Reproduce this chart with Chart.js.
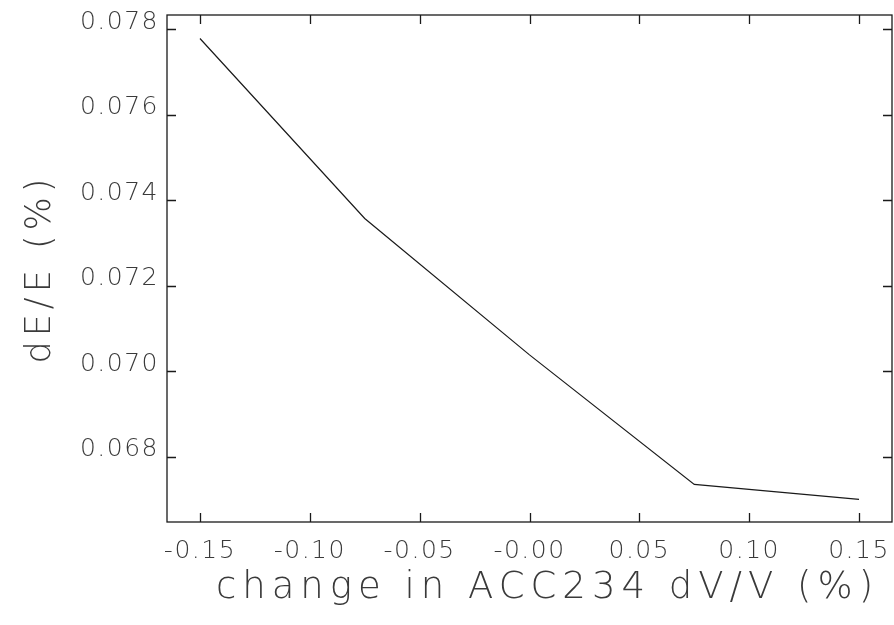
<!DOCTYPE html>
<html>
<head>
<meta charset="utf-8">
<title>dE/E vs ACC234 dV/V</title>
<script src="https://cdn.jsdelivr.net/npm/chart.js@4/dist/chart.umd.min.js"></script>
<style>
    html, body { margin: 0; padding: 0; background: #fff; }
    #wrap { width: 894px; height: 625px; }
</style>
</head>
<body>
<div id="wrap"><canvas id="chartEnergia" width="894" height="625"></canvas></div>
<script>
// voltage change on ACC234 (%) and resulting energy spread dE/E (%)
const cambioVoltaje = [-0.15, -0.075, 0.0, 0.075, 0.15];
const dispersionE = [0.07778, 0.07357, 0.07038, 0.06735, 0.06700];

const xTickValues = [-0.15, -0.10, -0.05, 0.0, 0.05, 0.10, 0.15];
const xTickLabels = ['-0.15', '-0.10', '-0.05', '-0.00', '0.05', '0.10', '0.15'];
const yTickValues = [0.068, 0.070, 0.072, 0.074, 0.076, 0.078];
const yTickLabels = ['0.068', '0.070', '0.072', '0.074', '0.076', '0.078'];

const fuente = "'DejaVu Sans', sans-serif";
const colorTexto = '#3a3a3a';
const colorLinea = '#1a1a1a';

// box around the plot with inward ticks on all four sides
const marcoTicks = {
    id: 'marcoTicks',
    afterDraw(chart) {
        const { ctx, chartArea: a, scales: { x, y } } = chart;
        const largo = 9;
        ctx.save();
        ctx.strokeStyle = colorLinea;
        ctx.lineWidth = 1.3;
        ctx.strokeRect(a.left, a.top, a.right - a.left, a.bottom - a.top);
        ctx.beginPath();
        x.ticks.forEach(t => {
            const px = Math.round(x.getPixelForValue(t.value)) + 0.5;
            ctx.moveTo(px, a.bottom); ctx.lineTo(px, a.bottom - largo);
            ctx.moveTo(px, a.top); ctx.lineTo(px, a.top + largo);
        });
        y.ticks.forEach(t => {
            const py = Math.round(y.getPixelForValue(t.value)) + 0.5;
            ctx.moveTo(a.left, py); ctx.lineTo(a.left + largo, py);
            ctx.moveTo(a.right, py); ctx.lineTo(a.right - largo, py);
        });
        ctx.stroke();
        ctx.restore();
    }
};

// wide spacing for the stroke-style lettering
const espaciado = {
    id: 'espaciado',
    beforeDraw(chart) {
        chart.ctx.letterSpacing = '1.5px';
        const { x, y } = chart.scales;
        [[x, '6px', 18], [y, '5px', 0]].forEach(([s, esp, dx]) => {
            if (s._tituloParcheado) return;
            const original = s.drawTitle.bind(s);
            s.drawTitle = function () {
                const c = this.ctx;
                c.save();
                c.letterSpacing = esp;
                c.translate(dx, 0);
                original();
                c.restore();
            };
            s._tituloParcheado = true;
        });
    }
};

const chartEnergia = new Chart(document.getElementById('chartEnergia'), {
    type: 'line',
    data: {
        datasets: [{
            data: cambioVoltaje.map((v, i) => ({ x: v, y: dispersionE[i] })),
            borderColor: colorLinea,
            borderWidth: 1.2,
            pointRadius: 0,
            tension: 0,
            fill: false
        }]
    },
    options: {
        responsive: false,
        animation: false,
        layout: { padding: { top: 15, right: 2, left: 0, bottom: 0 } },
        plugins: {
            legend: { display: false },
            tooltip: { enabled: false }
        },
        scales: {
            x: {
                type: 'linear',
                min: -0.165,
                max: 0.165,
                afterBuildTicks: s => { s.ticks = xTickValues.map(v => ({ value: v })); },
                afterFit: s => { s.height = 103; s.paddingLeft = 0; s.paddingRight = 0; },
                grid: { display: false, drawTicks: false },
                border: { display: false },
                ticks: {
                    callback: (v, i) => xTickLabels[i],
                    color: colorTexto,
                    font: { family: fuente, size: 25, weight: '200' },
                    padding: 14,
                    maxRotation: 0,
                    autoSkip: false
                },
                title: {
                    display: true,
                    text: 'change in ACC234 dV/V (%)',
                    color: colorTexto,
                    font: { family: fuente, size: 37, weight: '200' },
                    padding: { top: 0, bottom: 14 }
                }
            },
            y: {
                type: 'linear',
                min: 0.06647,
                max: 0.07833,
                afterBuildTicks: s => { s.ticks = yTickValues.map(v => ({ value: v })); },
                afterFit: s => { s.width = 167; s.paddingTop = 0; s.paddingBottom = 0; },
                grid: { display: false, drawTicks: false },
                border: { display: false },
                ticks: {
                    callback: (v, i) => yTickLabels[i],
                    color: colorTexto,
                    font: { family: fuente, size: 25, weight: '200' },
                    padding: 8,
                    labelOffset: -7,
                    autoSkip: false
                },
                title: {
                    display: true,
                    text: 'dE/E (%)',
                    color: colorTexto,
                    font: { family: fuente, size: 35, weight: '200' },
                    padding: { top: 20, bottom: 0 }
                }
            }
        }
    },
    plugins: [espaciado, marcoTicks]
});
</script>
</body>
</html>
